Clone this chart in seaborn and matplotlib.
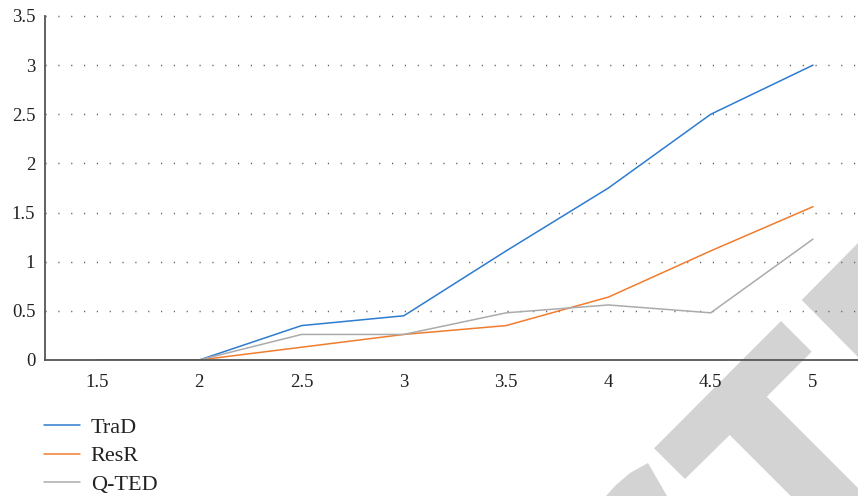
import matplotlib
matplotlib.use("Agg")
import matplotlib.pyplot as plt
from matplotlib.patches import Polygon
import seaborn as sns
import pandas as pd

# Series values
x_values = [1.5, 2, 2.5, 3, 3.5, 4, 4.5, 5]
trad = [0, 0, 0.35, 0.45, 1.11, 1.75, 2.5, 3.0]
resr = [0, 0, 0.13, 0.26, 0.35, 0.64, 1.11, 1.56]
qted = [0, 0, 0.26, 0.26, 0.48, 0.56, 0.48, 1.23]
series_names = ["TraD", "ResR", "Q-TED"]
series_colors = ["#2E7BCF", "#F07C2E", "#ABABAB"]
y_ticks = [0, 0.5, 1, 1.5, 2, 2.5, 3, 3.5]
y_tick_labels = ["0", "0.5", "1", "1.5", "2", "2.5", "3", "3.5"]
x_tick_labels = ["1.5", "2", "2.5", "3", "3.5", "4", "4.5", "5"]

df = pd.DataFrame({
    "x": x_values * 3,
    "value": trad + resr + qted,
    "series": [n for n in series_names for _ in x_values],
})

sns.set_style("white")
plt.rcParams["font.family"] = ["Liberation Serif", "DejaVu Serif"]

W, H = 858, 496
fig = plt.figure(figsize=(W / 100, H / 100), dpi=100)
ax = fig.add_axes([45 / W, 1 - 360 / H, 1 - 45 / W, (360 - 16) / H])
ax.patch.set_alpha(0)

# light grey watermark shapes in the lower right corner (pixel coordinates)
def px(pts):
    return [(x / W, 1 - y / H) for x, y in pts]

shapes = [
    [(801.7, 300), (858, 243), (858, 357)],
    [(781, 321), (811.7, 351.7), (766.7, 396.7), (866, 496), (790.7, 496),
     (729.7, 435), (685, 479), (654, 448.3)],
    [(606, 496), (616, 485), (630, 473), (648, 463), (667, 496)],
]
for s in shapes:
    fig.patches.append(Polygon(px(s), closed=True, transform=fig.transFigure,
                               facecolor="#D3D3D3", edgecolor="none", zorder=-5))

sns.lineplot(data=df, x="x", y="value", hue="series", hue_order=series_names,
             palette=series_colors, linewidth=1.1, ax=ax, legend=False,
             estimator=None, sort=False)

ax.set_xlim(1.246, 5.22)
ax.set_ylim(0, 3.5)
ax.set_xticks(x_values)
ax.set_xticklabels(x_tick_labels)
ax.set_yticks(y_ticks)
ax.set_yticklabels(y_tick_labels)
ax.set_xlabel("")
ax.set_ylabel("")

for yv in y_ticks[1:]:
    ax.axhline(yv, color="#5f5f5f", linewidth=1.05, linestyle=(0, (0.8, 8)),
               zorder=0.5, clip_on=False)

for side in ["top", "right"]:
    ax.spines[side].set_visible(False)
for side in ["left", "bottom"]:
    ax.spines[side].set_color("#555555")
    ax.spines[side].set_linewidth(1.3)
    ax.spines[side].set_zorder(3)

ax.tick_params(axis="both", length=0, labelsize=13.5, colors="#222222")
ax.tick_params(axis="y", pad=7)
ax.tick_params(axis="x", pad=10)

handles = [plt.Line2D([], [], color=c, linewidth=1.1) for c in series_colors]
fig.legend(handles, series_names, loc="upper left",
           bbox_to_anchor=(44 / W, 1 - 417 / H), frameon=False,
           fontsize=16, handlelength=1.6, handletextpad=0.5,
           labelspacing=0.37, borderpad=0, borderaxespad=0,
           labelcolor="#222222")

fig.savefig("out.png", dpi=100)
